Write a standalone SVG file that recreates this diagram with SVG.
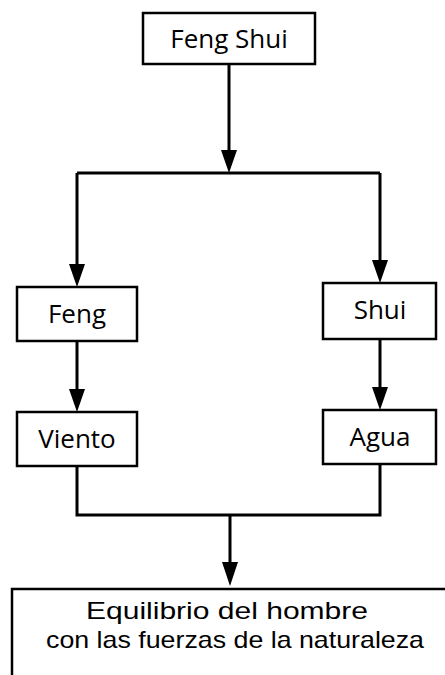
<svg xmlns="http://www.w3.org/2000/svg" width="445" height="675" viewBox="0 0 445 675">
<style>
.box{fill:#fff;stroke:#000;stroke-width:2.5}
.lbl{font-family:"Open Sans","Liberation Sans",sans-serif;font-size:26px;fill:#000;text-anchor:middle}
.lbl2{font-family:"Liberation Sans",Arial,sans-serif;font-size:24px;fill:#000;text-anchor:middle}
.con{fill:none;stroke:#000;stroke-width:3}
.head{fill:#000}
</style>
<g id="connectors">
<path class="con" d="M229,64 V150"/>
<path class="head" d="M221,150 L237,150 L229,173 Z"/>
<path class="con" d="M77,173 H380"/>
<path class="con" d="M77,173 V264"/>
<path class="head" d="M69,264 L85,264 L77,287 Z"/>
<path class="con" d="M380,173 V260"/>
<path class="head" d="M372,260 L388,260 L380,283 Z"/>
<path class="con" d="M77,341 V389"/>
<path class="head" d="M69,389 L85,389 L77,412 Z"/>
<path class="con" d="M380,339 V387"/>
<path class="head" d="M372,387 L388,387 L380,410 Z"/>
<path class="con" d="M77,466 V515 H380 V464"/>
<path class="con" d="M230,515 V562"/>
<path class="head" d="M222,562 L238,562 L230,586 Z"/>
</g>
<g id="feng-shui">
<rect class="box" x="143" y="13" width="172" height="51"/>
<text class="lbl" x="229" y="48">Feng Shui</text>
</g>
<g id="feng">
<rect class="box" x="17" y="287" width="120" height="54"/>
<text class="lbl" x="77" y="323">Feng</text>
</g>
<g id="shui">
<rect class="box" x="323" y="283" width="113" height="56"/>
<text class="lbl" x="380" y="319">Shui</text>
</g>
<g id="viento">
<rect class="box" x="17" y="412" width="120" height="54"/>
<text class="lbl" x="77" y="448">Viento</text>
</g>
<g id="agua">
<rect class="box" x="323" y="410" width="113" height="54"/>
<text class="lbl" x="380" y="446">Agua</text>
</g>
<g id="equilibrio">
<path class="box" d="M12,676 V589 H446"/>
<text class="lbl2" x="227" y="619" textLength="282" lengthAdjust="spacingAndGlyphs">Equilibrio del hombre</text>
<text class="lbl2" x="235" y="648" textLength="378" lengthAdjust="spacingAndGlyphs">con las fuerzas de la naturaleza</text>
</g>
</svg>
